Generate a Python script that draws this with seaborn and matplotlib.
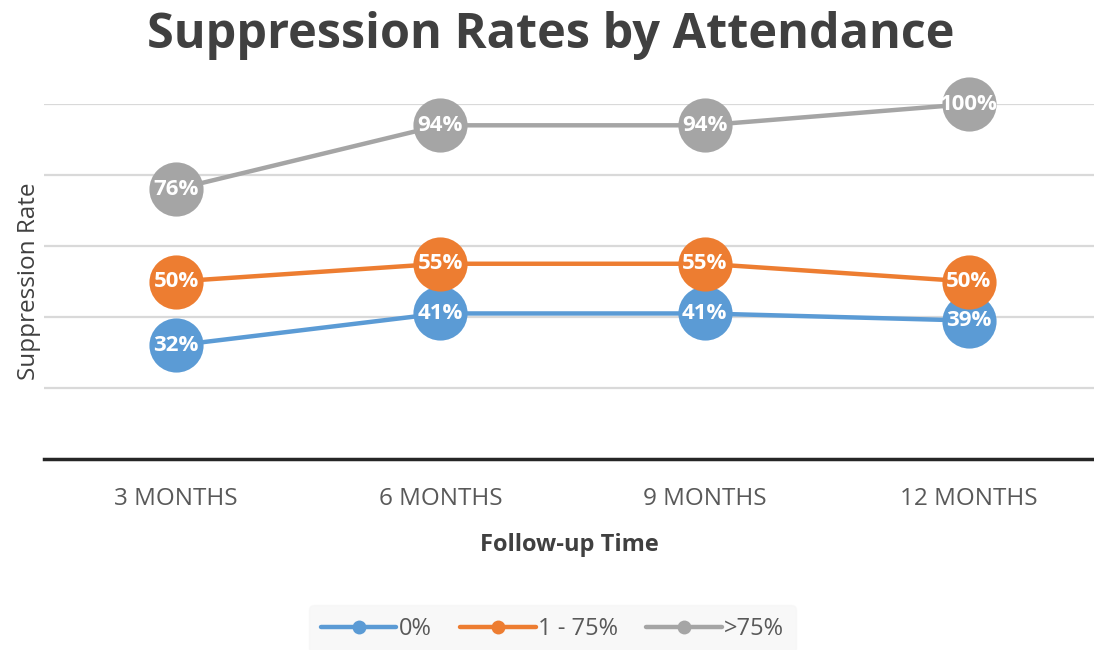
import pandas as pd
import seaborn as sns
import matplotlib.pyplot as plt

times = ["3 MONTHS", "6 MONTHS", "9 MONTHS", "12 MONTHS"]
groups = ["0%", "1 - 75%", ">75%"]
rate_0 = [32, 41, 41, 39]
rate_1_75 = [50, 55, 55, 50]
rate_75 = [76, 94, 94, 100]
colors = ["#5B9BD5", "#ED7D31", "#A5A5A5"]

df = pd.DataFrame({
    "time": times * 3,
    "rate": rate_0 + rate_1_75 + rate_75,
    "group": [g for g in groups for _ in times],
})

sns.set_style("white")
plt.rcParams["font.family"] = ["Open Sans", "DejaVu Sans"]

fig = plt.figure(figsize=(10.94, 6.5), dpi=100)
ax = fig.add_axes([44 / 1094, 1 - 459 / 650, 1 - 44 / 1094, (459 - 104) / 650])

# gridlines first so they sit under the lines
for y in [20, 40, 60, 80, 100]:
    ax.axhline(y, color="#d9d9d9", lw=1.6, zorder=0)

sns.lineplot(data=df, x="time", y="rate", hue="group", palette=colors,
             marker="o", markersize=39, markeredgewidth=0, linewidth=3.2,
             sort=False, ax=ax, clip_on=False, zorder=3)

for i, g in enumerate(groups):
    sub = df[df["group"] == g]
    for j, (t, v) in enumerate(zip(sub["time"], sub["rate"])):
        ax.text(j, v, f"{v}%", ha="center", va="center", color="white",
                fontsize=16, fontweight="bold", zorder=5)

ax.set_xlim(-0.5, 3.473)
ax.set_ylim(0, 100)
ax.set_yticks([])
for s in ["left", "right", "top"]:
    ax.spines[s].set_visible(False)
ax.spines["bottom"].set_color("#262626")
ax.spines["bottom"].set_linewidth(2.5)
ax.tick_params(axis="x", length=0, pad=20, labelsize=17.5, labelcolor="#595959")

ax.set_xlabel("Follow-up Time", fontsize=17, fontweight="bold", color="#404040", labelpad=16)
ax.set_ylabel("Suppression Rate", fontsize=17.5, color="#404040")
ax.yaxis.set_label_coords(-0.003, 0.5)

fig.text(0.503, 1 - 35 / 650, "Suppression Rates by Attendance", fontsize=35,
         fontweight="bold", color="#404040", ha="center", va="center")

leg = ax.legend(loc="center", bbox_to_anchor=(0.505, 1 - 629 / 650), bbox_transform=fig.transFigure,
                ncol=3, frameon=True, fontsize=17, handlelength=3.2, columnspacing=1.2,
                handletextpad=0.1, borderpad=0.5)
leg.get_frame().set_facecolor("#f7f7f7")
leg.get_frame().set_edgecolor("#f7f7f7")
for h in leg.legend_handles:
    h.set_markersize(10)
for t in leg.get_texts():
    t.set_color("#595959")

fig.savefig("out.png", dpi=100)
